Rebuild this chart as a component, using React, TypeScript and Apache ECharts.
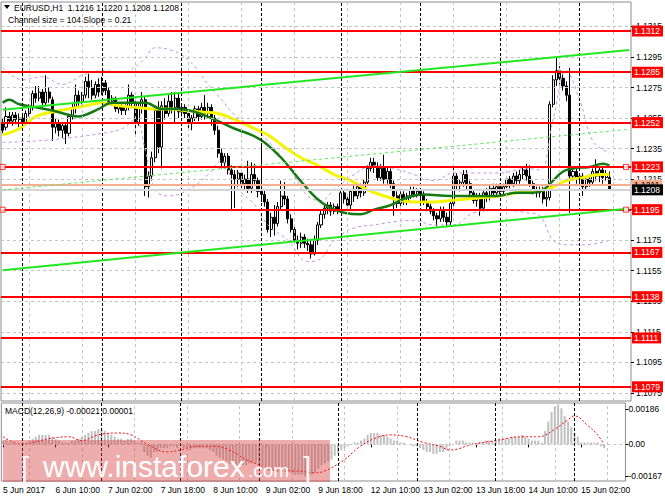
import { useEffect, useRef } from 'react';
import * as echarts from 'echarts';

const N_CATS = 190;
const tickLabels = ['5 Jun 2017', '6 Jun 10:00', '7 Jun 02:00', '7 Jun 18:00', '8 Jun 10:00', '9 Jun 02:00', '9 Jun 18:00', '12 Jun 10:00', '13 Jun 02:00', '13 Jun 18:00', '14 Jun 10:00', '15 Jun 02:00'];
const priceTicks = [1.1075, 1.1095, 1.1115, 1.1135, 1.1155, 1.1175, 1.1195, 1.1215, 1.1235, 1.1255, 1.1275, 1.1295, 1.1315];
const priceLabels = [1.1075, 1.1095, 1.1115, 1.1135, 1.1155, 1.1175, 1.1215, 1.1235, 1.1255, 1.1275, 1.1295, 1.1315];
const macdTicks = [0.00186, 0, -0.00167];
const redLevels = [1.1312, 1.1285, 1.1252, 1.1223, 1.1195, 1.1167, 1.1138, 1.1111, 1.1079];
const salmonLevel = 1.1211;
const lastPrice = 1.1208;
const gridBars = [8, 24, 40, 56, 72, 88, 104, 120, 136, 152, 168, 184];
const daySeparators = [6, 30, 54, 78, 102, 126, 150, 174];

// [open, high, low, close]
const ohlc: number[][] = [
  [1.1252, 1.1255, 1.1245, 1.1247], [1.1249, 1.1262, 1.1247, 1.1256], [1.1256, 1.1259, 1.1251, 1.1253], [1.1253, 1.1259, 1.1250, 1.1257],
  [1.1257, 1.1259, 1.1251, 1.1254], [1.1254, 1.1258, 1.1249, 1.1255], [1.1255, 1.1257, 1.1249, 1.1252], [1.1252, 1.1260, 1.1250, 1.1258],
  [1.1258, 1.1264, 1.1256, 1.1262], [1.1262, 1.1273, 1.1260, 1.1271], [1.1271, 1.1276, 1.1265, 1.1268], [1.1268, 1.1276, 1.1266, 1.1272],
  [1.1272, 1.1274, 1.1262, 1.1265], [1.1265, 1.1283, 1.1263, 1.1272], [1.1272, 1.1275, 1.1265, 1.1268], [1.1267, 1.1269, 1.1240, 1.1249],
  [1.1249, 1.1255, 1.1245, 1.1252], [1.1252, 1.1254, 1.1243, 1.1247], [1.1247, 1.1252, 1.1242, 1.1250], [1.1250, 1.1252, 1.1238, 1.1245],
  [1.1245, 1.1258, 1.1243, 1.1256], [1.1256, 1.1265, 1.1254, 1.1262], [1.1262, 1.1277, 1.1258, 1.1270], [1.1270, 1.1273, 1.1263, 1.1266],
  [1.1266, 1.1272, 1.1264, 1.1270], [1.1270, 1.1282, 1.1268, 1.1279], [1.1279, 1.1284, 1.1268, 1.1275], [1.1275, 1.1280, 1.1267, 1.1270],
  [1.1270, 1.1279, 1.1268, 1.1277], [1.1277, 1.1281, 1.1269, 1.1272], [1.1272, 1.1282, 1.1270, 1.1278], [1.1278, 1.1280, 1.1270, 1.1273],
  [1.1273, 1.1275, 1.1264, 1.1266], [1.1266, 1.1270, 1.1263, 1.1268], [1.1268, 1.1269, 1.1259, 1.1261], [1.1261, 1.1265, 1.1258, 1.1263],
  [1.1263, 1.1265, 1.1257, 1.1260], [1.1260, 1.1264, 1.1257, 1.1262], [1.1262, 1.1277, 1.1260, 1.1270], [1.1270, 1.1272, 1.1262, 1.1265],
  [1.1265, 1.1267, 1.1244, 1.1252], [1.1252, 1.1265, 1.1250, 1.1262], [1.1262, 1.1272, 1.1258, 1.1267], [1.1267, 1.1269, 1.1204, 1.1210],
  [1.1210, 1.1220, 1.1203, 1.1217], [1.1217, 1.1233, 1.1214, 1.1229], [1.1229, 1.1263, 1.1226, 1.1260], [1.1260, 1.1266, 1.1232, 1.1236],
  [1.1236, 1.1266, 1.1222, 1.1263], [1.1263, 1.1268, 1.1254, 1.1258], [1.1258, 1.1270, 1.1256, 1.1266], [1.1266, 1.1272, 1.1258, 1.1262],
  [1.1262, 1.1272, 1.1252, 1.1268], [1.1268, 1.1271, 1.1255, 1.1259], [1.1259, 1.1264, 1.1256, 1.1262], [1.1262, 1.1264, 1.1255, 1.1258],
  [1.1258, 1.1260, 1.1248, 1.1252], [1.1252, 1.1257, 1.1247, 1.1255], [1.1255, 1.1263, 1.1253, 1.1261], [1.1261, 1.1263, 1.1253, 1.1256],
  [1.1256, 1.1265, 1.1254, 1.1262], [1.1262, 1.1270, 1.1254, 1.1258], [1.1258, 1.1265, 1.1255, 1.1262], [1.1262, 1.1264, 1.1250, 1.1255],
  [1.1255, 1.1257, 1.1244, 1.1247], [1.1247, 1.1250, 1.1229, 1.1232], [1.1232, 1.1235, 1.1222, 1.1226], [1.1226, 1.1232, 1.1222, 1.1230],
  [1.1230, 1.1232, 1.1218, 1.1221], [1.1221, 1.1224, 1.1195, 1.1218], [1.1218, 1.1221, 1.1196, 1.1215], [1.1215, 1.1221, 1.1210, 1.1219],
  [1.1219, 1.1221, 1.1208, 1.1212], [1.1212, 1.1218, 1.1208, 1.1215], [1.1215, 1.1227, 1.1206, 1.1209], [1.1209, 1.1226, 1.1206, 1.1218],
  [1.1218, 1.1225, 1.1211, 1.1214], [1.1214, 1.1216, 1.1203, 1.1207], [1.1207, 1.1237, 1.1200, 1.1205], [1.1205, 1.1208, 1.1197, 1.1200],
  [1.1200, 1.1202, 1.1180, 1.1182], [1.1182, 1.1193, 1.1177, 1.1190], [1.1190, 1.1198, 1.1178, 1.1186], [1.1186, 1.1200, 1.1184, 1.1197],
  [1.1197, 1.1214, 1.1195, 1.1204], [1.1204, 1.1213, 1.1198, 1.1202], [1.1202, 1.1204, 1.1186, 1.1189], [1.1189, 1.1192, 1.1180, 1.1182],
  [1.1182, 1.1185, 1.1172, 1.1175], [1.1175, 1.1178, 1.1169, 1.1173], [1.1173, 1.1180, 1.1170, 1.1177], [1.1177, 1.1179, 1.1170, 1.1173],
  [1.1173, 1.1176, 1.1168, 1.1172], [1.1172, 1.1175, 1.1163, 1.1166], [1.1166, 1.1178, 1.1165, 1.1175], [1.1175, 1.1187, 1.1172, 1.1185],
  [1.1185, 1.1195, 1.1183, 1.1192], [1.1192, 1.1199, 1.1189, 1.1196], [1.1196, 1.1200, 1.1192, 1.1198], [1.1198, 1.1200, 1.1191, 1.1194],
  [1.1194, 1.1199, 1.1192, 1.1197], [1.1197, 1.1199, 1.1192, 1.1195], [1.1195, 1.1208, 1.1193, 1.1206], [1.1206, 1.1208, 1.1199, 1.1202],
  [1.1202, 1.1204, 1.1196, 1.1198], [1.1198, 1.1208, 1.1195, 1.1207], [1.1207, 1.1211, 1.1200, 1.1204], [1.1204, 1.1212, 1.1202, 1.1210],
  [1.1210, 1.1212, 1.1203, 1.1206], [1.1206, 1.1215, 1.1204, 1.1213], [1.1213, 1.1224, 1.1211, 1.1222], [1.1222, 1.1229, 1.1220, 1.1226],
  [1.1226, 1.1229, 1.1219, 1.1223], [1.1223, 1.1226, 1.1214, 1.1216], [1.1216, 1.1225, 1.1214, 1.1222], [1.1222, 1.1231, 1.1212, 1.1215],
  [1.1215, 1.1223, 1.1212, 1.1220], [1.1220, 1.1222, 1.1209, 1.1212], [1.1212, 1.1214, 1.1191, 1.1204], [1.1204, 1.1207, 1.1196, 1.1199],
  [1.1199, 1.1207, 1.1197, 1.1205], [1.1205, 1.1207, 1.1198, 1.1200], [1.1200, 1.1206, 1.1198, 1.1204], [1.1204, 1.1210, 1.1202, 1.1208],
  [1.1208, 1.1210, 1.1203, 1.1205], [1.1205, 1.1209, 1.1203, 1.1207], [1.1207, 1.1209, 1.1202, 1.1205], [1.1205, 1.1207, 1.1198, 1.1200],
  [1.1200, 1.1202, 1.1194, 1.1197], [1.1197, 1.1199, 1.1192, 1.1194], [1.1194, 1.1196, 1.1188, 1.1191], [1.1191, 1.1193, 1.1184, 1.1189],
  [1.1189, 1.1197, 1.1187, 1.1195], [1.1195, 1.1197, 1.1187, 1.1190], [1.1190, 1.1193, 1.1184, 1.1187], [1.1187, 1.1201, 1.1185, 1.1199],
  [1.1199, 1.1225, 1.1197, 1.1217], [1.1217, 1.1219, 1.1208, 1.1211], [1.1211, 1.1215, 1.1207, 1.1213], [1.1213, 1.1221, 1.1210, 1.1218],
  [1.1218, 1.1221, 1.1208, 1.1212], [1.1212, 1.1214, 1.1203, 1.1206], [1.1206, 1.1208, 1.1199, 1.1201], [1.1201, 1.1206, 1.1197, 1.1204],
  [1.1204, 1.1206, 1.1191, 1.1196], [1.1196, 1.1208, 1.1194, 1.1206], [1.1206, 1.1209, 1.1200, 1.1203], [1.1203, 1.1211, 1.1201, 1.1209],
  [1.1209, 1.1212, 1.1203, 1.1206], [1.1206, 1.1212, 1.1204, 1.1210], [1.1210, 1.1212, 1.1205, 1.1207], [1.1207, 1.1212, 1.1205, 1.1210],
  [1.1210, 1.1217, 1.1208, 1.1215], [1.1215, 1.1217, 1.1209, 1.1212], [1.1212, 1.1219, 1.1210, 1.1217], [1.1217, 1.1220, 1.1211, 1.1214],
  [1.1214, 1.1221, 1.1212, 1.1218], [1.1218, 1.1223, 1.1215, 1.1221], [1.1221, 1.1225, 1.1214, 1.1217], [1.1217, 1.1224, 1.1210, 1.1212],
  [1.1212, 1.1214, 1.1205, 1.1208], [1.1208, 1.1210, 1.1203, 1.1206], [1.1206, 1.1210, 1.1203, 1.1208], [1.1208, 1.1210, 1.1199, 1.1202],
  [1.1202, 1.1207, 1.1197, 1.1203], [1.1203, 1.1266, 1.1201, 1.1264], [1.1264, 1.1283, 1.1262, 1.1280], [1.1280, 1.1295, 1.1276, 1.1286],
  [1.1286, 1.1289, 1.1277, 1.1281], [1.1281, 1.1284, 1.1273, 1.1276], [1.1276, 1.1279, 1.1266, 1.1270], [1.1270, 1.1288, 1.1193, 1.1217],
  [1.1217, 1.1223, 1.1214, 1.1220], [1.1220, 1.1222, 1.1212, 1.1215], [1.1215, 1.1219, 1.1211, 1.1217], [1.1217, 1.1219, 1.1204, 1.1210],
  [1.1210, 1.1217, 1.1208, 1.1215], [1.1215, 1.1218, 1.1210, 1.1213], [1.1213, 1.1222, 1.1211, 1.1220], [1.1220, 1.1228, 1.1214, 1.1217],
  [1.1217, 1.1223, 1.1213, 1.1221], [1.1221, 1.1223, 1.1212, 1.1216], [1.1216, 1.1221, 1.1214, 1.1218], [1.1216, 1.1220, 1.1208, 1.1208],
];

// [bar index, value] read at sampled bars
const yellowMA: number[][] = [
  [0, 1.1244], [5, 1.1248], [10, 1.1256], [15, 1.1259], [20, 1.1261], [25, 1.1263], [30, 1.1265], [35, 1.1263], [40, 1.1262],
  [45, 1.1261], [50, 1.1261], [55, 1.1260], [60, 1.1259], [65, 1.1258], [70, 1.1254], [75, 1.1249], [80, 1.1244], [85, 1.1236],
  [90, 1.1229], [95, 1.1224], [100, 1.1218], [105, 1.1214], [110, 1.1208], [115, 1.1204], [120, 1.1201], [125, 1.1200], [130, 1.1200],
  [135, 1.1201], [140, 1.1202], [145, 1.1203], [150, 1.1204], [155, 1.1206], [160, 1.1207], [165, 1.1209], [170, 1.1214], [175, 1.1216],
  [180, 1.1218], [183, 1.1218],
];
const greenMA: number[][] = [
  [0, 1.1265], [2, 1.1267], [5, 1.1264], [10, 1.1262], [15, 1.1260], [20, 1.1257], [23, 1.1256], [26, 1.1258], [29, 1.1261],
  [33, 1.1265], [38, 1.1265], [43, 1.1265], [48, 1.1261], [53, 1.1261], [58, 1.1259], [64, 1.1254], [70, 1.1248], [75, 1.1244],
  [79, 1.1239], [84, 1.1229], [89, 1.1216], [93, 1.1206], [96, 1.1200], [99, 1.1196], [103, 1.1193], [108, 1.1192], [112, 1.1195],
  [117, 1.1198], [122, 1.1203], [127, 1.1205], [135, 1.1204], [142, 1.1204], [149, 1.1204], [155, 1.1206], [160, 1.1206], [163, 1.1208],
  [166, 1.1214], [169, 1.1220], [172, 1.1222], [177, 1.1223], [181, 1.1225], [183, 1.1224],
];
const bandUpper: number[][] = [
  [0, 1.1288], [6, 1.1280], [12, 1.1282], [18, 1.1277], [24, 1.1283], [30, 1.1286], [36, 1.1285], [42, 1.1292], [46, 1.1301],
  [50, 1.1300], [56, 1.1293], [62, 1.1277], [66, 1.1267], [70, 1.1257], [76, 1.1248], [80, 1.1240], [86, 1.1224], [92, 1.1204],
  [96, 1.1201], [100, 1.1208], [106, 1.1218], [112, 1.1224], [118, 1.1222], [124, 1.1218], [130, 1.1214], [136, 1.1219], [142, 1.1219],
  [150, 1.1219], [158, 1.1222], [162, 1.1221], [166, 1.1254], [170, 1.1286], [174, 1.1267], [178, 1.1240], [183, 1.1232],
];
const bandLower: number[][] = [
  [0, 1.1239], [10, 1.1240], [20, 1.1242], [30, 1.1245], [36, 1.1248], [40, 1.1254], [43, 1.1234], [46, 1.1208], [50, 1.1204],
  [56, 1.1208], [62, 1.1218], [66, 1.1227], [70, 1.1211], [76, 1.1198], [80, 1.1185], [86, 1.1175], [92, 1.1161], [96, 1.1163],
  [100, 1.1175], [106, 1.1183], [112, 1.1185], [118, 1.1187], [124, 1.1188], [130, 1.1185], [136, 1.1185], [142, 1.1193],
  [150, 1.1195], [158, 1.1193], [162, 1.1191], [166, 1.1175], [170, 1.1172], [176, 1.1172], [183, 1.1175],
];
const channelUpper: number[][] = [[0, 1.12604], [189, 1.12995]];
const channelLower: number[][] = [[0, 1.11554], [189, 1.11958]];
const channelMiddle: number[][] = [[0, 1.12079], [189, 1.12477]];

const macdHist: number[] = [
  0.0002, 0.0002, 0.0001, 0.0001, 0.0000, 0.0000, 0.0001, 0.0001,
  0.0002, 0.0003, 0.0004, 0.0005, 0.0005, 0.0005, 0.0005, 0.0004, 0.0003,
  0.0002, 0.0001, 0.0001, 0.0001, 0.0002, 0.0002, 0.0003, 0.0004, 0.0005,
  0.0006, 0.0007, 0.0007, 0.0008, 0.0008, 0.0007, 0.0006, 0.0005,
  0.0004, 0.0003, 0.0003, 0.0002, 0.0003, 0.0003, 0.0002, 0.0001, 0.0001,
  -0.0004, -0.0006, -0.0007, -0.0004, -0.0004, -0.0002, -0.0002,
  -0.0002, -0.0001, -0.0001, -0.0002, -0.0001, -0.0002, -0.0002, -0.0003, -0.0002, -0.0002, -0.0002, -0.0002, -0.0002, -0.0003, -0.0004,
  -0.0006, -0.0007, -0.0008, -0.0009, -0.0010, -0.0010, -0.0011, -0.0011, -0.0011, -0.0011, -0.0010, -0.0010, -0.0010, -0.0010, -0.0011,
  -0.0013, -0.0014, -0.0014, -0.0013, -0.0012, -0.0012, -0.0013, -0.0014, -0.0015, -0.0016, -0.0016, -0.0016, -0.0017, -0.0017, -0.0016, -0.0015, -0.0013, -0.0011, -0.0010,
  -0.0009, -0.0008, -0.0006, -0.0005, -0.0003, -0.0002, -0.0001, 0.0000, 0.0001, 0.0001, 0.0002,
  0.0003, 0.0005, 0.0006, 0.0006, 0.0006, 0.0005, 0.0005, 0.0004, 0.0003, 0.0002, 0.0002,
  0.0001, 0.0001, 0.0000, 0.0000, -0.0001, -0.0001,
  -0.0002, -0.0003, -0.0004, -0.0004, -0.0005, -0.0005, -0.0004, -0.0004, -0.0003, -0.0001, 0.0000,
  0.0002, 0.0002, 0.0002, 0.0001, 0.0001, 0.0001, 0.0000, 0.0001, 0.0001, 0.0002, 0.0002, 0.0002, 0.0002, 0.0003, 0.0003, 0.0003, 0.0003, 0.0004, 0.0004, 0.0004, 0.0005,
  0.0004, 0.0003, 0.0002, 0.0002, 0.0002, 0.0001,
  0.0007, 0.0012, 0.0017, 0.0020, 0.0021, 0.0019, 0.0015, 0.0012, 0.0009,
  0.0006, 0.0004, 0.0001, 0.0001, 0.0001, 0.0001, 0.0001, 0.0001, -0.0001, -0.0002,
];
const macdSignal: number[][] = [
  [0, 0.0004], [6, 0.0000], [9, 0.0001], [14, 0.0003], [20, 0.0004], [24, 0.0002], [29, 0.0005], [35, 0.0006], [39, 0.0005],
  [44, 0.0000], [50, -0.0004], [54, -0.0003], [59, -0.0001], [64, -0.0001], [69, -0.0003], [74, -0.0008], [80, -0.0012],
  [84, -0.0014], [89, -0.0014], [95, -0.0015], [98, -0.0014], [104, -0.0008], [108, -0.0002], [113, 0.0003], [118, 0.0005],
  [123, 0.0004], [128, 0.0001], [133, -0.0001], [136, -0.0003], [143, 0.0000], [150, 0.0002], [158, 0.0004], [163, 0.0004],
  [168, 0.0008], [172, 0.0013], [174, 0.0015], [178, 0.0010], [181, 0.0005], [183, 0.0000],
];

const FONT = '"Liberation Sans", Arial, sans-serif';

export default function App() {
  const ref = useRef<HTMLDivElement>(null);
  useEffect(() => {
    if (!ref.current) return;
    const chart = echarts.init(ref.current, undefined, { renderer: 'svg' });
    const cats = Array.from({ length: N_CATS }, (_, i) => String(i));
    const candleData = ohlc.map(([o, h, l, c]) => [o, c, l, h]);

    const levelLine = (v: number, color: string, bg: string, fg: string, width: number) => ({
      yAxis: v,
      lineStyle: { color, width, type: 'solid' },
      label: {
        show: true, position: 'end', distance: 1, formatter: v.toFixed(4),
        backgroundColor: bg, color: fg, fontSize: 8.5, fontFamily: FONT, padding: [1, 3, 1, 2],
      },
    });

    const option: any = {
      animation: false,
      backgroundColor: '#ffffff',
      grid: [
        { left: 1, top: 2, width: 632, height: 399, show: true, borderColor: '#8c8c8c', borderWidth: 1, backgroundColor: '#ffffff' },
        { left: 1, top: 403, width: 632, height: 78, show: true, borderColor: '#8c8c8c', borderWidth: 1, backgroundColor: '#ffffff' },
      ],
      xAxis: [
        { type: 'category', gridIndex: 0, data: cats, axisLine: { show: false }, axisTick: { show: false }, axisLabel: { show: false }, splitLine: { show: false } },
        {
          type: 'category', gridIndex: 1, data: cats, position: 'bottom',
          axisLine: { show: false },
          axisTick: { show: true, alignWithLabel: true, length: 3, interval: (i: number) => i % 16 === 0, lineStyle: { color: '#000' } },
          axisLabel: {
            show: true, interval: (i: number) => i % 16 === 0 && i / 16 < tickLabels.length,
            formatter: (_v: string, i: number) => tickLabels[Math.round(i / 16)] ?? '',
            align: 'left', color: '#000', fontSize: 8.5, fontFamily: FONT, margin: 4,
          },
          splitLine: { show: false },
        },
      ],
      yAxis: [
        {
          type: 'value', gridIndex: 0, position: 'right', min: 1.10697, max: 1.1331, scale: true,
          axisLine: { show: false },
          axisTick: { show: true, length: 3, customValues: priceTicks, lineStyle: { color: '#000' } },
          axisLabel: { show: true, customValues: priceLabels, formatter: (v: number) => v.toFixed(4), color: '#000', fontSize: 8.5, fontFamily: FONT, margin: 5 },
          splitLine: { show: false },
        },
        {
          type: 'value', gridIndex: 1, position: 'right', min: -0.00193, max: 0.00218,
          axisLine: { show: false },
          axisTick: { show: true, length: 3, customValues: macdTicks, lineStyle: { color: '#000' } },
          axisLabel: { show: true, customValues: macdTicks, formatter: (v: number) => (v === 0 ? '0.00' : v.toFixed(5)), color: '#000', fontSize: 8.5, fontFamily: FONT, margin: 3 },
          splitLine: { show: false },
        },
      ],
      series: [
        {
          type: 'line', xAxisIndex: 0, yAxisIndex: 0, data: [], z: 1, silent: true,
          markLine: {
            silent: true, precision: 6, symbol: ['none', 'none'], label: { show: false },
            data: [
              ...priceTicks.map((v) => ({ yAxis: v, lineStyle: { color: '#c4c4c4', type: [3, 3], width: 1 } })),
              ...gridBars.map((v) => ({ xAxis: v, lineStyle: { color: '#c4c4c4', type: [3, 3], width: 1 } })),
              ...daySeparators.map((v) => ({ xAxis: v, lineStyle: { color: '#000', type: [3, 2], width: 1 } })),
            ],
          },
        },
        {
          type: 'line', xAxisIndex: 1, yAxisIndex: 1, data: [], z: 1, silent: true,
          markLine: {
            silent: true, precision: 6, symbol: ['none', 'none'], label: { show: false },
            data: [
              { yAxis: 0, lineStyle: { color: '#c4c4c4', type: [3, 3], width: 1 } },
              ...gridBars.map((v) => ({ xAxis: v, lineStyle: { color: '#c4c4c4', type: [3, 3], width: 1 } })),
              ...daySeparators.map((v) => ({ xAxis: v, lineStyle: { color: '#000', type: [3, 2], width: 1 } })),
            ],
          },
        },
        {
          type: 'candlestick', xAxisIndex: 0, yAxisIndex: 0, data: candleData, barWidth: 2.6, z: 2,
          itemStyle: { color: '#ffffff', color0: '#000000', borderColor: '#000000', borderColor0: '#000000', borderWidth: 1 },
        },
        {
          type: 'line', xAxisIndex: 0, yAxisIndex: 0, data: bandUpper, smooth: 0.4, symbol: 'none', z: 3,
          lineStyle: { color: '#c890e8', width: 1, type: [3, 3] },
        },
        {
          type: 'line', xAxisIndex: 0, yAxisIndex: 0, data: bandLower, smooth: 0.4, symbol: 'none', z: 3,
          lineStyle: { color: '#c890e8', width: 1, type: [3, 3] },
        },
        {
          type: 'line', xAxisIndex: 0, yAxisIndex: 0, data: yellowMA, smooth: 0.4, symbol: 'none', z: 4,
          lineStyle: { color: '#f5f500', width: 3 },
        },
        {
          type: 'line', xAxisIndex: 0, yAxisIndex: 0, data: greenMA, smooth: 0.4, symbol: 'none', z: 4,
          lineStyle: { color: '#147a14', width: 2.5 },
        },
        {
          type: 'line', xAxisIndex: 0, yAxisIndex: 0, data: channelUpper, symbol: 'none', z: 5,
          lineStyle: { color: '#22e822', width: 2 },
        },
        {
          type: 'line', xAxisIndex: 0, yAxisIndex: 0, data: channelLower, symbol: 'none', z: 5,
          lineStyle: { color: '#22e822', width: 2 },
        },
        {
          type: 'line', xAxisIndex: 0, yAxisIndex: 0, data: channelMiddle, symbol: 'none', z: 5,
          lineStyle: { color: '#55ee55', width: 1, type: [3, 3] },
        },
        {
          type: 'line', xAxisIndex: 0, yAxisIndex: 0, data: [], z: 6, silent: true,
          markLine: {
            silent: true, precision: 6, symbol: ['none', 'none'],
            data: [
              levelLine(salmonLevel, '#f6ad92', '#f6ad92', '#000000', 2),
              levelLine(lastPrice, '#d4d4d4', '#000000', '#ffffff', 2),
              ...redLevels.map((v) => levelLine(v, '#ff0000', '#ff0000', '#ffffff', 2)),
            ],
          },
        },
        {
          type: 'scatter', xAxisIndex: 0, yAxisIndex: 0, z: 7, symbol: 'rect', symbolSize: 5, silent: true,
          data: [[0, 1.1223], [0, 1.1195], [188, 1.1223], [188, 1.1195]],
          itemStyle: { color: '#ffffff', borderColor: '#ff0000', borderWidth: 1 },
        },
        {
          type: 'bar', xAxisIndex: 1, yAxisIndex: 1, data: macdHist, barWidth: 2, z: 2,
          itemStyle: { color: '#c0c0c0' },
        },
        {
          type: 'line', xAxisIndex: 1, yAxisIndex: 1, data: macdSignal, smooth: 0.4, symbol: 'none', z: 3,
          lineStyle: { color: '#ff0000', width: 1, type: [2, 2] },
        },
      ],
      graphic: [
        { type: 'polygon', z: 100, shape: { points: [[4, 5], [10, 5], [7, 9]] }, style: { fill: '#000' } },
        { type: 'text', z: 100, x: 14, y: 8, style: { text: 'EURUSD,H1  1.1216 1.1220 1.1208 1.1208', font: `8.5px ${FONT}`, fill: '#000', verticalAlign: 'middle' } },
        { type: 'text', z: 100, x: 8, y: 20, style: { text: 'Channel size = 104 Slope = 0.21', font: `8.5px ${FONT}`, fill: '#000', verticalAlign: 'middle' } },
        { type: 'text', z: 100, x: 5, y: 411, style: { text: 'MACD(12,26,9) -0.00021 0.00001', font: `8.5px ${FONT}`, fill: '#000', verticalAlign: 'middle' } },
        { type: 'rect', z: 100, shape: { x: 3, y: 440, width: 327, height: 42 }, style: { fill: 'rgba(215,60,60,0.42)' } },
        { type: 'text', z: 101, x: 43, y: 466, style: { text: 'www.instaforex', font: `30px ${FONT}`, fill: '#ffffff', verticalAlign: 'middle' } },
        { type: 'text', z: 101, x: 248, y: 470, style: { text: '.com', font: `19px ${FONT}`, fill: '#ffffff', verticalAlign: 'middle' } },
        { type: 'text', z: 101, x: 21, y: 467, style: { text: '[', font: `30px ${FONT}`, fill: '#f4f4f4', verticalAlign: 'middle' } },
        { type: 'text', z: 101, x: 303, y: 467, style: { text: ']', font: `30px ${FONT}`, fill: '#f4f4f4', verticalAlign: 'middle' } },
      ],
    };
    chart.setOption(option);
    return () => chart.dispose();
  }, []);
  return <div ref={ref} style={{ position: 'fixed', left: 0, top: 0, width: 665, height: 499, background: '#fff' }} />;
}
